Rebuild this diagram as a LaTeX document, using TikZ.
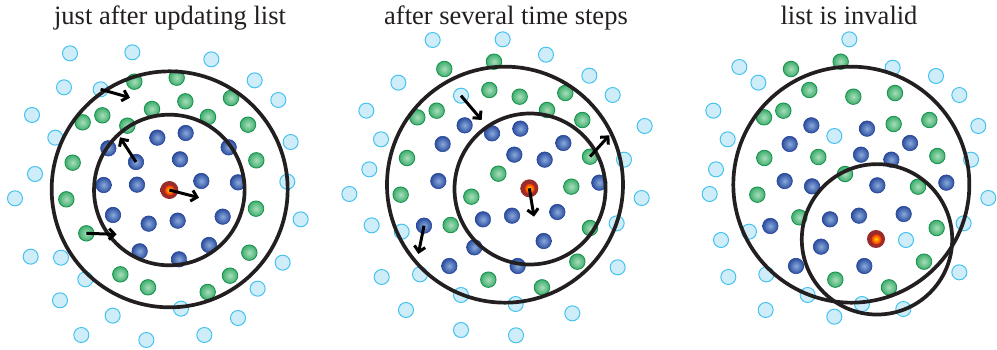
\documentclass[tikz,border=0pt]{standalone}
\usepackage{fontspec}
\setmainfont{Liberation Serif}
\usetikzlibrary{arrows.meta}
\definecolor{lbfill}{HTML}{CFEDF9}
\definecolor{lbdraw}{HTML}{45C3EF}
\definecolor{grin}{HTML}{A9DEBA}
\definecolor{grout}{HTML}{3FAE6E}
\definecolor{grdraw}{HTML}{13904A}
\definecolor{blin}{HTML}{8AAADC}
\definecolor{blout}{HTML}{2C4E9E}
\definecolor{bldraw}{HTML}{26449A}
\definecolor{rdark}{HTML}{9A2B2B}
\definecolor{ringc}{HTML}{231F20}
\pgfdeclareradialshading{redball}{\pgfpointorigin}{color(0bp)=(yellow!70!orange); color(7bp)=(orange); color(12bp)=(orange!50!red); color(15bp)=(rdark); color(25bp)=(rdark); color(50bp)=(rdark)}
\tikzset{
  lb/.style={circle, minimum size=15pt, inner sep=0pt, fill=lbfill, draw=lbdraw, line width=1pt},
  gr/.style={circle, minimum size=15.5pt, inner sep=0pt, inner color=grin, outer color=grout, draw=grdraw, line width=0.8pt},
  bl/.style={circle, minimum size=15.5pt, inner sep=0pt, inner color=blin, outer color=blout, draw=bldraw, line width=0.6pt},
  redp/.style={circle, minimum size=18pt, inner sep=0pt, shading=redball},
  ring/.style={draw=ringc, line width=3.7pt},
  arr/.style={-{Straight Barb[length=5.5pt,width=11pt]}, line width=3pt, black},
  title/.style={anchor=base, font=\fontsize{26.5}{31}\selectfont, text=ringc},
  panel/.style={x=0.33333pt, y=-0.33333pt, yshift=-30pt}
}
\begin{document}
\begin{tikzpicture}[x=1pt, y=-1pt]
\useasboundingbox (0,0) rectangle (997,350);
\node[title] (t1) at (170,25) {just after updating list};
\node[title] (t2) at (506,25) {after several time steps};
\node[title] (t3) at (849,25) {list is invalid};

% ---------- panel 1 ----------
\begin{scope}[panel]
\foreach \a/\b [count=\i] in {210/70, 397/67, 634/88, 192/172, 302/178, 764/151, 835/210, 96/255, 166/323, 872/336, 105/432, 862/455, 45/505, 902/568, 92/680, 183/683, 848/698, 256/748, 773/776, 180/811, 543/836, 338/857, 714/864, 244/915, 439/930, 613/915}
  \node[lb] (Alb\i) at (\a,\b) {};
\foreach \a/\b [count=\i] in {403/155, 530/143, 556/214, 693/204, 456/237, 307/256, 248/277, 382/287, 624/261, 744/284, 218/398, 769/391, 199/508, 768/536, 259/610, 748/668, 361/733, 444/772, 690/737, 623/786}
  \node[gr] (Agr\i) at (\a,\b) {};
\foreach \a/\b [count=\i] in {472/323, 557/309, 325/355, 686/352, 408/396, 540/388, 311/465, 411/464, 604/453, 714/457, 339/555, 446/581, 533/572, 668/560, 419/664, 627/645, 537/688}
  \node[bl] (Abl\i) at (\a,\b) {};
\node[redp] (Ared) at (508,480) {};
\draw[ring] (509,478) circle[radius=118pt];
\draw[ring] (508,480) circle[radius=75.3pt];
\coordinate (Ae1) at (390,203);
\coordinate (Ae2) at (360,322);
\coordinate (Ae3) at (597,503);
\coordinate (Ae4) at (350,613);
\draw[arr] (Alb5.center) -- (Ae1);
\draw[arr] (Abl5.center) -- (Ae2);
\draw[arr] (Ared.center) -- (Ae3);
\draw[arr] (Agr15.center) -- (Ae4);
\end{scope}

% ---------- panel 2 ----------
\begin{scope}[panel, xshift=330pt]
\foreach \a/\b [count=\i] in {308/30, 518/28, 648/74, 205/158, 393/197, 778/137, 848/195, 109/242, 153/328, 944/288, 118/418, 882/389, 58/492, 935/504, 125/586, 215/605, 860/580, 863/712, 155/741, 270/733, 393/795, 557/822, 228/840, 727/850, 393/900, 558/916}
  \node[lb] (Blb\i) at (\a,\b) {};
\foreach \a/\b [count=\i] in {343/117, 492/95, 478/180, 569/200, 706/189, 262/262, 320/242, 651/240, 757/270, 780/380, 231/384, 505/431, 724/470, 212/494, 424/500, 362/585, 780/594, 742/695, 475/749, 636/772}
  \node[gr] (Bgr\i) at (\a,\b) {};
\foreach \a/\b [count=\i] in {404/286, 486/310, 571/296, 338/342, 700/339, 553/374, 644/389, 325/453, 808/458, 459/568, 546/557, 682/546, 282/587, 433/652, 641/633, 358/708, 563/708}
  \node[bl] (Bbl\i) at (\a,\b) {};
\node[redp] (Bred) at (598,475) {};
\draw[ring] (525,464) circle[radius=118pt];
\draw[ring] (600,477) circle[radius=75.5pt];
\coordinate (Be1) at (455,270);
\coordinate (Be2) at (612,560);
\coordinate (Be3) at (838,316);
\coordinate (Be4) at (265,672);
\draw[arr] (Blb5.center) -- (Be1);
\draw[arr] (Bred.center) -- (Be2);
\draw[arr] (Bgr10.center) -- (Be3);
\draw[arr] (Bbl13.center) -- (Be4);
\end{scope}

% ---------- panel 3 ----------
\begin{scope}[panel, xshift=660pt]
\foreach \a/\b [count=\i] in {568/28, 238/111, 698/113, 295/158, 828/138, 898/195, 160/242, 203/328, 523/318, 955/288, 168/418, 933/389, 149/492, 985/504, 267/605, 911/580, 183/630, 738/630, 205/741, 319/733, 898/727, 443/795, 606/822, 317/840, 523/860, 730/837}
  \node[lb] (Clb\i) at (\a,\b) {};
\foreach \a/\b [count=\i] in {393/117, 542/95, 448/180, 580/200, 705/189, 312/262, 370/242, 701/282, 808/270, 313/384, 475/381, 832/378, 555/432, 774/470, 292/494, 418/562, 830/594, 792/695, 526/749, 687/772}
  \node[gr] (Cgr\i) at (\a,\b) {};
\foreach \a/\b [count=\i] in {454/286, 621/296, 389/342, 750/339, 603/374, 694/389, 374/453, 456/469, 652/466, 859/458, 510/568, 597/557, 731/552, 331/588, 483/650, 408/708, 613/708}
  \node[bl] (Cbl\i) at (\a,\b) {};
\node[redp] (Cred) at (648,627) {};
\draw[ring] (574,464) circle[radius=118pt];
\draw[ring] (651,628) circle[radius=75.2pt];
\end{scope}
\end{tikzpicture}
\end{document}
